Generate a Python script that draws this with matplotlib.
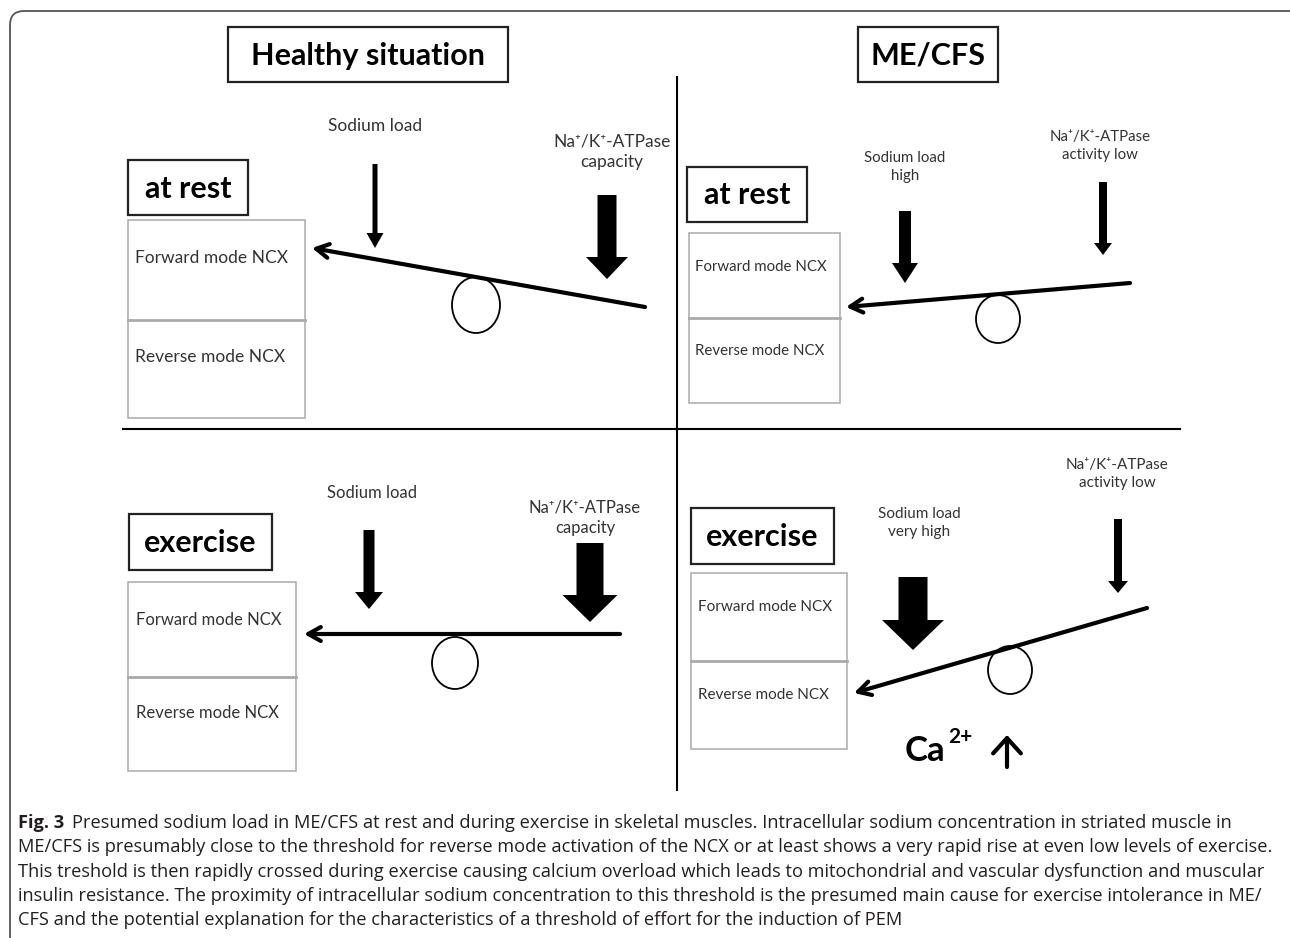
import matplotlib.pyplot as plt
from matplotlib.patches import Rectangle, Ellipse, FancyBboxPatch

# text content
panel_titles = ['Healthy situation', 'ME/CFS']
state_labels = ['at rest', 'exercise', 'at rest', 'exercise']
ncx_modes = ['Forward mode NCX', 'Reverse mode NCX']
load_labels = ['Sodium load', 'Sodium load', 'Sodium load\nhigh', 'Sodium load\nvery high']
pump_labels = ['Na⁺/K⁺-ATPase\ncapacity', 'Na⁺/K⁺-ATPase\ncapacity',
               'Na⁺/K⁺-ATPase\nactivity low', 'Na⁺/K⁺-ATPase\nactivity low']
caption_head = 'Fig. 3'
caption_lines = [
    'Presumed sodium load in ME/CFS at rest and during exercise in skeletal muscles. Intracellular sodium concentration in striated muscle in',
    'ME/CFS is presumably close to the threshold for reverse mode activation of the NCX or at least shows a very rapid rise at even low levels of exercise.',
    'This treshold is then rapidly crossed during exercise causing calcium overload which leads to mitochondrial and vascular dysfunction and muscular',
    'insulin resistance. The proximity of intracellular sodium concentration to this threshold is the presumed main cause for exercise intolerance in ME/',
    'CFS and the potential explanation for the characteristics of a threshold of effort for the induction of PEM',
]

# layout in pixels, one entry per panel (healthy rest, healthy exercise, ME rest, ME exercise)
panels = [
    dict(state=(128, 160, 248, 215), ncx=(128, 220, 305, 418), div=320, fwd=258, rev=357, tx=135,
         fs=12.5, load_lab=(375, 126), load=(375, 164, 248, 5, 17, 15),
         pump_lab=(612, 152), pump=(607, 195, 279, 19, 42, 22),
         lever=(645, 307, 312, 248), circ=(476, 305, 48, 56)),
    dict(state=(129, 514, 272, 570), ncx=(128, 582, 296, 771), div=677, fwd=620, rev=713, tx=136,
         fs=12, load_lab=(372, 493), load=(369, 530, 609, 11, 28, 17),
         pump_lab=(585, 518), pump=(590, 543, 622, 27, 55, 27),
         lever=(620, 634, 304, 634), circ=(455, 663, 46, 52)),
    dict(state=(687, 167, 807, 222), ncx=(689, 233, 840, 403), div=318, fwd=267, rev=351, tx=695,
         fs=10.8, load_lab=(905, 167), load=(905, 211, 283, 12, 26, 20),
         pump_lab=(1100, 146), pump=(1103, 182, 255, 8, 18, 12),
         lever=(1130, 283, 846, 307), circ=(998, 319, 44, 48)),
    dict(state=(691, 508, 834, 564), ncx=(691, 573, 847, 749), div=661, fwd=607, rev=695, tx=698,
         fs=11, load_lab=(919, 523), load=(913, 577, 650, 29, 62, 30),
         pump_lab=(1117, 474), pump=(1118, 519, 593, 8, 20, 12),
         lever=(1147, 608, 854, 693), circ=(1010, 670, 44, 48)),
]

FONT = ['Lato', 'DejaVu Sans']
plt.rcParams['font.family'] = FONT

fig = plt.figure(figsize=(12.9, 9.38), dpi=100)
ax = fig.add_axes([0, 0, 1, 1])
ax.set_xlim(0, 1290)
ax.set_ylim(938, 0)
ax.axis('off')

# outer frame
ax.add_patch(FancyBboxPatch((10, 11), 1300, 960, boxstyle='round,pad=0,rounding_size=14',
                            fill=False, ec='#555555', lw=1.3))

# titles
for title, (x0, x1) in zip(panel_titles, [(228, 508), (858, 998)]):
    ax.add_patch(Rectangle((x0, 27), x1 - x0, 55, fill=False, ec='#222222', lw=1.6))
    ax.text((x0 + x1) / 2, 56, title, ha='center', va='center', fontsize=22, fontweight='bold')

# dividers
ax.plot([677, 677], [77, 790], color='black', lw=1.5)
ax.plot([123, 1180], [429, 429], color='black', lw=1.5)

for i, p in enumerate(panels):
    fs = p['fs']
    x0, y0, x1, y1 = p['state']
    ax.add_patch(Rectangle((x0, y0), x1 - x0, y1 - y0, fill=False, ec='#222222', lw=1.6))
    ax.text((x0 + x1) / 2, (y0 + y1) / 2 + 1, state_labels[i], ha='center', va='center',
            fontsize=22, fontweight='bold')

    x0, y0, x1, y1 = p['ncx']
    ax.add_patch(Rectangle((x0, y0), x1 - x0, y1 - y0, fill=False, ec='#aaaaaa', lw=1.1))
    ax.plot([x0, x1], [p['div'], p['div']], color='#aaaaaa', lw=2)
    ax.text(p['tx'], p['fwd'], ncx_modes[0], ha='left', va='center', fontsize=fs, color='#333333')
    ax.text(p['tx'], p['rev'], ncx_modes[1], ha='left', va='center', fontsize=fs, color='#333333')

    ax.text(*p['load_lab'], load_labels[i], ha='center', va='center', fontsize=fs,
            color='#333333', linespacing=1.35)
    ax.text(*p['pump_lab'], pump_labels[i], ha='center', va='center', fontsize=fs,
            color='#333333', linespacing=1.35)

    for key in ('load', 'pump'):
        x, ya, yb, w, hw, hl = p[key]
        ax.arrow(x, ya, 0, yb - ya, width=w, head_width=hw, head_length=hl,
                 length_includes_head=True, color='black', lw=0)

    xs, ys, xe, ye = p['lever']
    ax.annotate('', xy=(xe, ye), xytext=(xs, ys),
                arrowprops=dict(arrowstyle='->,head_length=0.9,head_width=0.5', lw=3,
                                color='black', shrinkA=0, shrinkB=0))
    cx, cy, cw, ch = p['circ']
    ax.add_patch(Ellipse((cx, cy), cw, ch, fill=False, ec='black', lw=1.3))

# Ca2+ up
ax.text(905, 751, 'Ca', ha='left', va='center', fontsize=25, fontweight='bold')
ax.text(948, 737, '2+', ha='left', va='center', fontsize=15, fontweight='bold')
ax.annotate('', xy=(1007, 735), xytext=(1007, 767),
            arrowprops=dict(arrowstyle='->,head_length=0.55,head_width=0.5', lw=3,
                            color='black', shrinkA=0, shrinkB=0, mutation_scale=20))

# caption, font size fitted so the second line spans its width in the reference
cap_font = ['Open Sans', 'DejaVu Sans']
renderer = fig.canvas.get_renderer()
probe = ax.text(18, 847, caption_lines[1], fontsize=12, family=cap_font)
w = probe.get_window_extent(renderer).width
probe.remove()
cap_size = 12 * 1252 / w

line_y = [823, 847, 872, 896, 920]
head = ax.text(18, line_y[0], caption_head, ha='left', va='center', fontsize=cap_size,
               fontweight='bold', family=cap_font, color='#231f20')
hx = head.get_window_extent(renderer).x1
ax.text(hx + 8, line_y[0], caption_lines[0], ha='left', va='center', fontsize=cap_size,
        family=cap_font, color='#231f20')
for txt, y in zip(caption_lines[1:], line_y[1:]):
    ax.text(18, y, txt, ha='left', va='center', fontsize=cap_size, family=cap_font, color='#231f20')

fig.savefig('out.png', dpi=100)
